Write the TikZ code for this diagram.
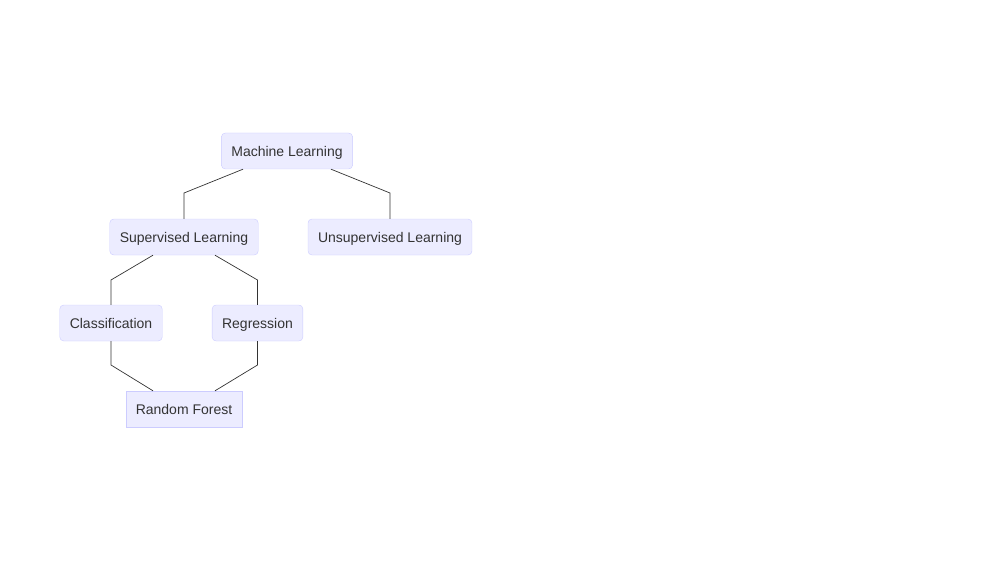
\documentclass[tikz,border=0pt]{standalone}
\usepackage{fontspec}
\setmainfont{Liberation Sans}
\usepackage{tikz}
\usetikzlibrary{positioning}

\definecolor{boxfill}{HTML}{ECECFF}
\definecolor{boxline}{HTML}{CCCCFF}
\definecolor{ink}{HTML}{333333}

\tikzset{
  topic/.style={draw=boxline, fill=boxfill, rounded corners=4pt, text=ink,
    minimum height=36pt, inner xsep=10pt, text height=12pt, text depth=1pt,
    font=\fontsize{14}{16}\selectfont},
  leaf/.style={topic, rounded corners=0pt},
  link/.style={draw=ink, line width=0.7pt}
}

\begin{document}
\begin{tikzpicture}[x=1pt,y=-1pt]
  \useasboundingbox (0,0) rectangle (1000,580);

  \draw (287,151) node[topic] (ml) {Machine Learning};
  \draw (184,237) node[topic] (supervised) {Supervised Learning};
  \draw (390,237) node[topic] (unsupervised) {Unsupervised Learning};
  \draw (111,323) node[topic] (classif) {Classification};
  \draw (257.5,323) node[topic] (regress) {Regression};
  \draw (184,409) node[leaf] (forest) {Random Forest};

  % bends of the connectors
  \coordinate (b-sup) at (184,193);
  \coordinate (b-unsup) at (390,193);
  \coordinate (b-class) at (111,280);
  \coordinate (b-reg) at (257.5,280);
  \coordinate (b-cf) at (111,365);
  \coordinate (b-rf) at (257.5,365);

  \draw[link] ([xshift=-44pt]ml.south) -- (b-sup) -- (supervised.north);
  \draw[link] ([xshift=44pt]ml.south) -- (b-unsup) -- (unsupervised.north);
  \draw[link] ([xshift=-31pt]supervised.south) -- (b-class) -- (classif.north);
  \draw[link] ([xshift=31pt]supervised.south) -- (b-reg) -- (regress.north);
  \draw[link] (classif.south) -- (b-cf) -- ([xshift=-31pt]forest.north);
  \draw[link] (regress.south) -- (b-rf) -- ([xshift=31pt]forest.north);

\end{tikzpicture}
\end{document}
